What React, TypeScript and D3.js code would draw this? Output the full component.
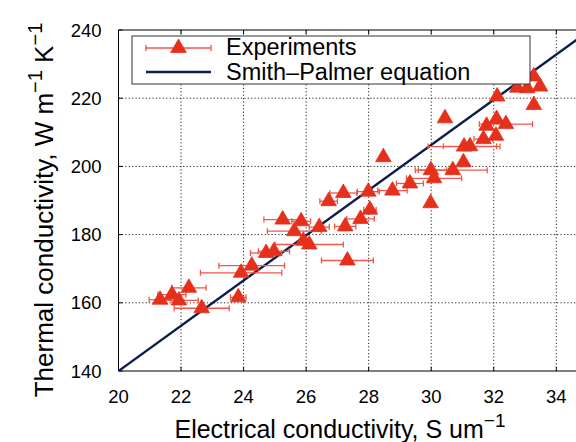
import React from "react";
import * as d3 from "d3";

const xTicks = [20, 22, 24, 26, 28, 30, 32, 34];
const yTicks = [140, 160, 180, 200, 220, 240];

// Experiments: electrical conductivity (S/um), thermal conductivity (W/m/K), x error
const expX = [21.33, 21.71, 21.93, 22.25, 22.66, 23.83, 23.92, 24.26, 24.72, 24.97, 25.25, 25.62, 25.84, 25.91, 26.1, 26.42, 26.72, 27.19, 27.25, 27.32, 27.74, 27.99, 28.04, 28.47, 28.76, 29.32, 29.98, 29.99, 30.09, 30.69, 31.03, 30.44, 31.05, 31.24, 31.67, 31.77, 32.09, 32.39, 32.07, 32.11, 32.75, 33.07, 33.28, 33.48, 33.28];
const expY = [161.5, 163.0, 161.3, 165.0, 159.0, 162.2, 169.4, 171.5, 175.2, 175.7, 185.0, 181.6, 184.5, 178.8, 177.7, 182.8, 190.4, 192.8, 183.0, 173.0, 185.2, 193.2, 187.9, 203.3, 193.5, 195.6, 189.8, 199.5, 197.1, 199.5, 201.8, 214.7, 206.4, 206.5, 208.6, 212.5, 214.5, 213.0, 209.6, 221.1, 223.7, 223.5, 227.0, 224.0, 218.6];
const expErr = [0.35, 0.45, 0.62, 0.55, 0.88, 0.25, 1.3, 1.05, 0.5, 0.5, 0.6, 0.86, 0.3, 0.0, 1.09, 0.32, 0.28, 0.43, 0.34, 0.83, 0.44, 0.35, 0.2, 0.0, 0.47, 0.43, 0.0, 0.5, 0.88, 1.1, 0.0, 0.0, 1.15, 0.85, 0.3, 0.0, 0.0, 0.85, 0.0, 0.0, 0.0, 0.0, 0.0, 0.0, 0.0];

// Smith–Palmer line endpoints
const lineX = [20, 35];
const lineY = [140, 239.45];

const W = 576;
const H = 442;
const left = 118.5;
const top = 30;
const bottom = 371;

export default function App() {
  const x = d3.scaleLinear().domain([20, 34]).range([left, 556.3]);
  const y = d3.scaleLinear().domain([140, 240]).range([bottom, top]);
  const right = x(35);
  const r = 9;
  const tri = (cx: number, cy: number) => {
    const p = [
      [cx, cy - r],
      [cx + 0.866 * r, cy + 0.5 * r],
      [cx - 0.866 * r, cy + 0.5 * r],
    ];
    return "M" + p.map((q) => q.join(",")).join("L") + "Z";
  };
  const line = d3.line<number>().x((d) => x(lineX[d])).y((d) => y(lineY[d]));
  const red = "#e5301c";
  const barCol = "#f0574a";
  const navy = "#0b1f4e";
  const font = "'Liberation Sans', Arial, Helvetica, sans-serif";
  return (
    <svg width={W} height={H} style={{ position: "absolute", left: 0, top: 0, background: "#fff" }} fontFamily={font}>
      <defs>
        <clipPath id="plot">
          <rect x={left} y={top} width={right - left} height={bottom - top} />
        </clipPath>
      </defs>
      <rect x={0} y={0} width={W} height={H} fill="#fff" />
      {/* grid */}
      {xTicks.slice(1).map((t) => (
        <line key={"gx" + t} x1={x(t)} x2={x(t)} y1={top} y2={bottom} stroke="#222" strokeWidth={1} strokeDasharray="1.2,2.2" />
      ))}
      {yTicks.slice(1, -1).map((t) => (
        <line key={"gy" + t} x1={left} x2={right} y1={y(t)} y2={y(t)} stroke="#222" strokeWidth={1} strokeDasharray="1.2,2.2" />
      ))}
      {/* ticks */}
      {xTicks.map((t) => (
        <g key={"tx" + t}>
          <line x1={x(t)} x2={x(t)} y1={bottom} y2={bottom - 4} stroke="#000" />
          <line x1={x(t)} x2={x(t)} y1={top} y2={top + 4} stroke="#000" />
        </g>
      ))}
      {yTicks.map((t) => (
        <line key={"ty" + t} x1={left} x2={left + 4} y1={y(t)} y2={y(t)} stroke="#000" />
      ))}
      {/* frame */}
      <path d={`M${right},${top}H${left}V${bottom}H${right}`} fill="none" stroke="#000" strokeWidth={1} />
      {/* Smith-Palmer line */}
      <g clipPath="url(#plot)">
        <path d={line([0, 1]) || ""} stroke={navy} strokeWidth={2.4} fill="none" />
      </g>
      {/* error bars */}
      {expX.map((v, i) =>
        expErr[i] > 0 ? (
          <g key={"e" + i} stroke={barCol} strokeWidth={1.3}>
            <line x1={x(v - expErr[i])} x2={x(v + expErr[i])} y1={y(expY[i] - 0.6)} y2={y(expY[i] - 0.6)} />
            <line x1={x(v - expErr[i])} x2={x(v - expErr[i])} y1={y(expY[i] - 0.6) - 3} y2={y(expY[i] - 0.6) + 3} />
            <line x1={x(v + expErr[i])} x2={x(v + expErr[i])} y1={y(expY[i] - 0.6) - 3} y2={y(expY[i] - 0.6) + 3} />
          </g>
        ) : null
      )}
      {/* markers */}
      {expX.map((v, i) => (
        <path key={"m" + i} d={tri(x(v), y(expY[i] - 0.6))} fill={red} stroke={red} strokeWidth={0.8} />
      ))}
      {/* tick labels */}
      {xTicks.map((t) => (
        <text key={"lx" + t} x={x(t)} y={403} textAnchor="middle" fontSize={18.5}>
          {t}
        </text>
      ))}
      {yTicks.map((t) => (
        <text key={"ly" + t} x={left - 17} y={y(t) + 6.5} textAnchor="end" fontSize={18.5}>
          {t}
        </text>
      ))}
      {/* axis labels */}
      <text x={340} y={438} textAnchor="middle" fontSize={25}>
        Electrical conductivity, S um<tspan dy={-11} fontSize={19}>−1</tspan>
      </text>
      <text transform={`translate(53,${210}) rotate(-90)`} textAnchor="middle" fontSize={26}>
        Thermal conductivity, W m<tspan dy={-11} fontSize={20}>−1</tspan>
        <tspan dy={11}> K</tspan>
        <tspan dy={-11} fontSize={20}>−1</tspan>
      </text>
      {/* legend */}
      <rect x={132} y={36} width={398} height={48} fill="#fff" stroke="#333" strokeWidth={1} />
      <g stroke={barCol} strokeWidth={1.3}>
        <line x1={146} x2={211} y1={48} y2={48} />
        <line x1={146} x2={146} y1={45} y2={51} />
        <line x1={211} x2={211} y1={45} y2={51} />
      </g>
      <path d={tri(178.5, 48)} fill={red} stroke={red} strokeWidth={0.8} />
      <line x1={146} x2={211} y1={72} y2={72} stroke={navy} strokeWidth={2.4} />
      <text x={226} y={55} fontSize={23.5}>Experiments</text>
      <text x={226} y={80} fontSize={23.5}>Smith–Palmer equation</text>
    </svg>
  );
}
